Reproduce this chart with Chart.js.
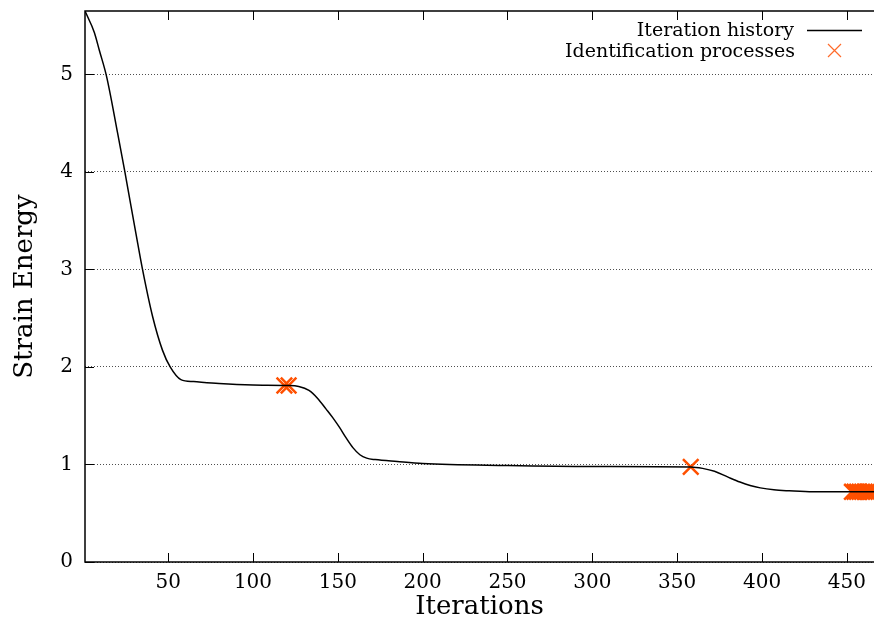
<!DOCTYPE html>
<html>
<head>
<meta charset="utf-8">
<script src="https://cdn.jsdelivr.net/npm/chart.js@4"></script>
<style>
  html, body { margin: 0; padding: 0; background: #fff; overflow: hidden; }
</style>
</head>
<body>
<canvas id="myChart" width="874" height="623"></canvas>
<script>
// iteration history
const iterX  = [1, 6.5, 9.4, 13.7, 20.2, 24.5, 31, 34.9, 40.8, 46.7, 51.2, 57.5, 65, 80, 100, 120, 127, 133, 138, 143, 147, 151, 155, 159, 163, 167, 172, 185, 200, 250, 300, 358, 365, 372, 380, 387, 393, 399, 407, 416, 430, 466];
const energy = [5.65, 5.43, 5.25, 4.98, 4.40, 4.0, 3.37, 3.0, 2.52, 2.17, 2.0, 1.87, 1.85, 1.83, 1.815, 1.81, 1.80, 1.76, 1.68, 1.57, 1.48, 1.38, 1.27, 1.17, 1.10, 1.065, 1.05, 1.03, 1.01, 0.99, 0.98, 0.975, 0.96, 0.93, 0.87, 0.82, 0.785, 0.76, 0.74, 0.73, 0.72, 0.72];

// identification processes
const idX = [118.5, 121, 358, 453, 454.5, 456, 457.5, 459, 460.5, 462, 463.5, 465];
const idY = [1.81, 1.81, 0.975, 0.72, 0.72, 0.72, 0.72, 0.72, 0.72, 0.72, 0.72, 0.72];

const xTicks = [50, 100, 150, 200, 250, 300, 350, 400, 450];
const yTicks = [0, 1, 2, 3, 4, 5];

const FONT = "'DejaVu Serif', 'Liberation Serif', serif";
const crossColor = '#ff5000';

const lineData = iterX.map((x, i) => ({x: x, y: energy[i]}));
const idData = idX.map((x, i) => ({x: x, y: idY[i]}));

// gnuplot-like frame, inward ticks and key
const framePlugin = {
  id: 'frame',
  afterDatasetsDraw(chart) {
    const ctx = chart.ctx;
    const a = chart.chartArea;
    const xs = chart.scales.x, ys = chart.scales.y;
    ctx.save();
    ctx.strokeStyle = '#000';
    ctx.lineWidth = 1.5;
    ctx.strokeRect(a.left, a.top, a.right - a.left + 2, a.bottom - a.top);
    ctx.lineWidth = 1;
    ctx.beginPath();
    xTicks.forEach(v => {
      const px = Math.round(xs.getPixelForValue(v)) + 0.5;
      ctx.moveTo(px, a.bottom); ctx.lineTo(px, a.bottom - 9);
      ctx.moveTo(px, a.top); ctx.lineTo(px, a.top + 9);
    });
    yTicks.forEach(v => {
      const py = Math.round(ys.getPixelForValue(v)) + 0.5;
      ctx.moveTo(a.left, py); ctx.lineTo(a.left + 9, py);
    });
    ctx.stroke();

    // key
    ctx.font = '19px ' + FONT;
    ctx.fillStyle = '#000';
    ctx.textAlign = 'right';
    ctx.textBaseline = 'alphabetic';
    ctx.fillText(chart.data.datasets[0].label, 794, 36);
    ctx.fillText(chart.data.datasets[1].label, 795, 57);
    ctx.lineWidth = 1.5;
    ctx.beginPath();
    ctx.moveTo(807, 30.5); ctx.lineTo(862, 30.5);
    ctx.stroke();
    ctx.strokeStyle = '#ff6a2a';
    ctx.lineWidth = 1.2;
    ctx.beginPath();
    ctx.moveTo(828, 44); ctx.lineTo(841, 57);
    ctx.moveTo(841, 44); ctx.lineTo(828, 57);
    ctx.stroke();
    ctx.restore();
  }
};

new Chart(document.getElementById('myChart'), {
  type: 'line',
  data: {
    datasets: [
      {
        label: 'Iteration history',
        data: lineData,
        borderColor: '#000',
        borderWidth: 1.5,
        pointRadius: 0,
        cubicInterpolationMode: 'monotone',
        fill: false
      },
      {
        type: 'scatter',
        label: 'Identification processes',
        data: idData,
        pointStyle: 'crossRot',
        pointRadius: 11,
        pointBorderWidth: 2.5,
        borderColor: crossColor,
        backgroundColor: crossColor,
        showLine: false
      }
    ]
  },
  options: {
    responsive: false,
    animation: false,
    layout: { autoPadding: false, padding: { top: 11, right: 0, left: 0, bottom: 0 } },
    plugins: { legend: { display: false }, tooltip: { enabled: false } },
    scales: {
      x: {
        type: 'linear',
        min: 1,
        max: 466,
        afterFit: s => { s.height = 61; s.paddingLeft = 0; s.paddingRight = 0; },
        grid: { display: false, drawTicks: false },
        border: { display: false },
        ticks: {
          stepSize: 50,
          includeBounds: false,
          padding: 9,
          maxRotation: 0,
          color: '#000',
          font: { family: FONT, size: 20 },
          callback: v => xTicks.includes(v) ? v : ''
        },
        title: {
          display: true,
          text: 'Iterations',
          color: '#000',
          padding: { top: 0, bottom: 0 },
          font: { family: FONT, size: 26 }
        }
      },
      y: {
        min: 0,
        max: 5.65,
        afterFit: s => { s.width = 85; s.paddingTop = 0; s.paddingBottom = 0; },
        grid: {
          color: '#222',
          lineWidth: 0.8,
          drawTicks: false
        },
        border: { display: false, dash: [1, 2] },
        ticks: {
          stepSize: 1,
          includeBounds: false,
          padding: 12,
          color: '#000',
          font: { family: FONT, size: 20 },
          callback: v => yTicks.includes(v) ? v : ''
        },
        title: {
          display: true,
          text: 'Strain Energy',
          color: '#000',
          padding: { top: 10, bottom: 0 },
          font: { family: FONT, size: 26 }
        }
      }
    }
  },
  plugins: [framePlugin]
});
</script>
</body>
</html>
